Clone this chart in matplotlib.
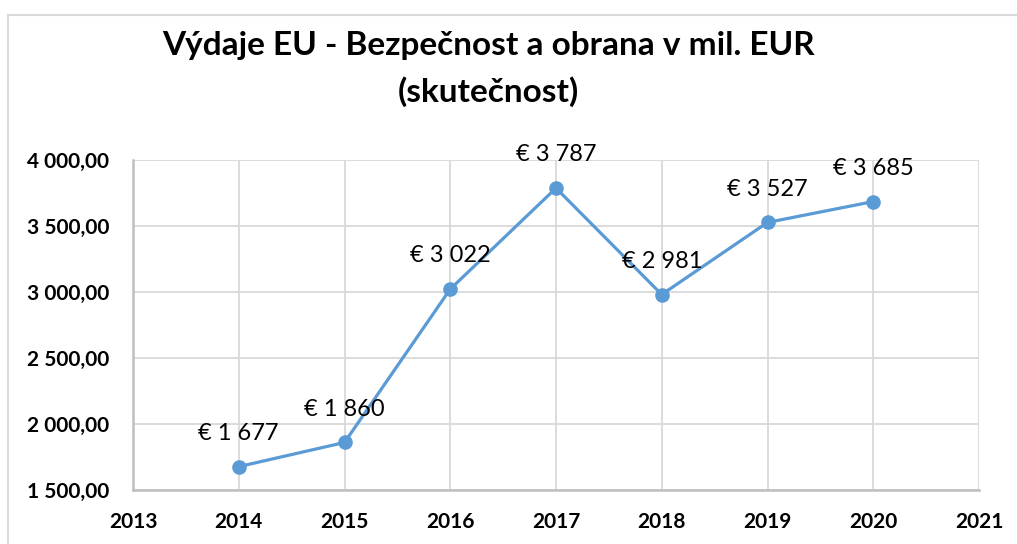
import matplotlib
matplotlib.use("Agg")
import matplotlib.pyplot as plt
from matplotlib.ticker import FuncFormatter
from matplotlib.lines import Line2D

years = [2014, 2015, 2016, 2017, 2018, 2019, 2020]
values = [1677, 1860, 3022, 3787, 2981, 3527, 3685]
title_lines = ["Výdaje EU - Bezpečnost a obrana v mil. EUR", "(skutečnost)"]

plt.rcParams['font.family'] = ['Lato', 'DejaVu Sans']

fig = plt.figure(figsize=(10.17, 5.44), dpi=100)
ax = fig.add_axes([133/1017, 1-490/544, (979-133)/1017, (490-160)/544])

# chart border (cropped at right and bottom)
fig.add_artist(Line2D([8/1017, 8/1017], [0, 1-15/544], transform=fig.transFigure, color='#d9d9d9', lw=1.5))
fig.add_artist(Line2D([8/1017, 1], [1-15/544, 1-15/544], transform=fig.transFigure, color='#d9d9d9', lw=1.5))

ax.plot(years, values, color='#5B9BD5', lw=2.3, marker='o', markersize=9.5, zorder=3)

def fmt_label(v):
    return "€ " + f"{v:,}".replace(",", " ")

for x, y in zip(years, values):
    ax.annotate(fmt_label(y), (x, y), xytext=(0, 24), textcoords='offset points',
                ha='center', va='center', fontsize=17, color='black', zorder=4)

ax.set_xlim(2013, 2021)
ax.set_ylim(1500, 4000)
ax.set_xticks(range(2013, 2022))
ax.set_yticks([1500, 2000, 2500, 3000, 3500, 4000])
ax.yaxis.set_major_formatter(FuncFormatter(lambda v, p: f"{v:,.2f}".replace(",", " ").replace(".", ",")))

ax.grid(True, color='#d9d9d9', lw=1.3)
ax.set_axisbelow(True)
for s in ['top', 'right']:
    ax.spines[s].set_visible(False)
for s in ['left', 'bottom']:
    ax.spines[s].set_color('#bfbfbf')
    ax.spines[s].set_linewidth(1.8)
ax.tick_params(length=0, labelsize=15)
ax.tick_params(axis='x', pad=16)
ax.tick_params(axis='y', pad=17)
for lab in ax.get_xticklabels() + ax.get_yticklabels():
    lab.set_fontweight('bold')

fig.text(488/1017, 1-45/544, title_lines[0], ha='center', va='center', fontsize=24, fontweight='bold')
fig.text(488/1017, 1-92/544, title_lines[1], ha='center', va='center', fontsize=24, fontweight='bold')

fig.savefig("out.png", dpi=100)
